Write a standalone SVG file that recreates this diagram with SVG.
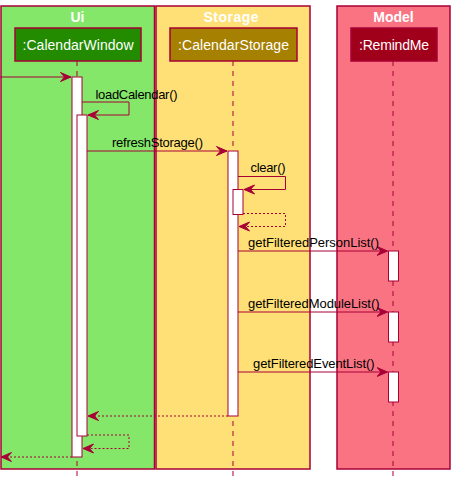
<svg xmlns="http://www.w3.org/2000/svg" width="455" height="481" viewBox="0 0 455 481">
<style>
.box{stroke:#A80036;stroke-width:1.5}
.title{font-family:"Liberation Sans",Arial,sans-serif;font-size:14px;font-weight:bold;fill:#FFFFFF;text-anchor:middle}
.part{stroke:#A80036;stroke-width:1.5}
.ptext{font-family:"Liberation Sans",Arial,sans-serif;font-size:14px;fill:#FFFFFF;text-anchor:middle}
.life{stroke:#A80036;stroke-width:1;stroke-dasharray:5,5;fill:none}
.act{fill:#FFFFFF;stroke:#A80036;stroke-width:1}
.msg{stroke:#A80036;stroke-width:1;fill:none;marker-end:url(#arr)}
.ret{stroke:#A80036;stroke-width:1;fill:none;stroke-dasharray:2,2;marker-end:url(#arr)}
.lbl{font-family:"Liberation Sans",Arial,sans-serif;font-size:13px;fill:#000000}
</style>
<defs>
<marker id="arr" markerUnits="userSpaceOnUse" markerWidth="13" markerHeight="11" refX="11" refY="5" orient="auto">
<path d="M0.5,0.5 L11,5 L0.5,9.5 L4.5,5 Z" fill="#A80036" stroke="#A80036" stroke-width="1"/>
</marker>
</defs>
<rect width="455" height="481" fill="#FFFFFF"/>
<g id="box-ui">
<rect class="box" x="1" y="6" width="153.5" height="463" fill="#84E76A"/>
<text class="title" x="77.5" y="22">Ui</text>
</g>
<g id="box-storage">
<rect class="box" x="156" y="6" width="154" height="463" fill="#FFE077"/>
<text class="title" x="231" y="22" textLength="55">Storage</text>
</g>
<g id="box-model">
<rect class="box" x="337" y="6" width="113" height="463" fill="#F97383"/>
<text class="title" x="393.5" y="22">Model</text>
</g>
<g id="lifelines">
<line class="life" x1="77" y1="61" x2="77" y2="481"/>
<line class="life" x1="233" y1="61" x2="233" y2="481"/>
<line class="life" x1="393" y1="61" x2="393" y2="481"/>
</g>
<g id="calendarWindow">
<rect class="part" x="15" y="28" width="126" height="33" fill="#228B00"/>
<text class="ptext" x="78" y="50" textLength="111">:CalendarWindow</text>
</g>
<g id="calendarStorage">
<rect class="part" x="170" y="28" width="127" height="33" fill="#A68000"/>
<text class="ptext" x="233.5" y="50" textLength="111">:CalendarStorage</text>
</g>
<g id="remindMe">
<rect class="part" x="351" y="28" width="86" height="33" fill="#A00019"/>
<text class="ptext" x="394" y="50" textLength="70">:RemindMe</text>
</g>
<g id="activations">
<rect class="act" x="72" y="77" width="10" height="380"/>
<rect class="act" x="77" y="115" width="10" height="321"/>
<rect class="act" x="228" y="151" width="10" height="265"/>
<rect class="act" x="233" y="189.5" width="10" height="25"/>
<rect class="act" x="388.5" y="251" width="10" height="30"/>
<rect class="act" x="388.5" y="312" width="10" height="30"/>
<rect class="act" x="388.5" y="372" width="10" height="30"/>
</g>
<g id="connectors">
<line class="msg" x1="0" y1="77" x2="71" y2="77"/>
<polyline class="msg" points="82,102 129,102 129,115 88,115"/>
<text class="lbl" x="95.5" y="99" textLength="82">loadCalendar()</text>
<line class="msg" x1="87" y1="151" x2="227" y2="151"/>
<text class="lbl" x="112" y="147" textLength="91">refreshStorage()</text>
<polyline class="msg" points="238,176.5 285.5,176.5 285.5,189.5 244,189.5"/>
<text class="lbl" x="250.5" y="172" textLength="35">clear()</text>
<polyline class="ret" points="243,213.5 285.5,213.5 285.5,226.5 239,226.5"/>
<line class="msg" x1="238" y1="251" x2="387.5" y2="251"/>
<text class="lbl" x="248" y="247" textLength="131">getFilteredPersonList()</text>
<line class="msg" x1="238" y1="312" x2="387.5" y2="312"/>
<text class="lbl" x="248" y="307.5" textLength="131.5">getFilteredModuleList()</text>
<line class="msg" x1="238" y1="372" x2="387.5" y2="372"/>
<text class="lbl" x="253" y="367.5" textLength="121.5">getFilteredEventList()</text>
<line class="ret" x1="228" y1="416" x2="88" y2="416"/>
<polyline class="ret" points="87,435 129,435 129,448.5 83,448.5"/>
<line class="ret" x1="72" y1="457" x2="1" y2="457"/>
</g>
</svg>
